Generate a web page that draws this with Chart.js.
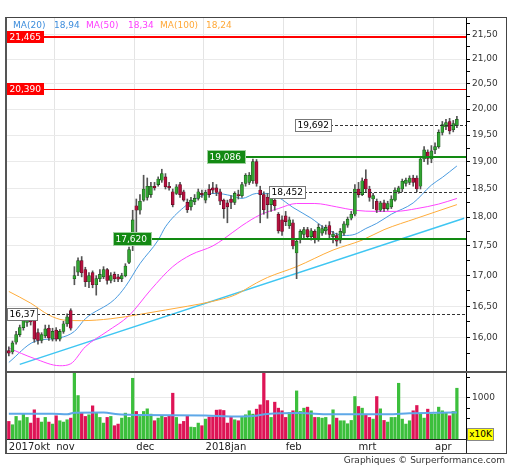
<!DOCTYPE html>
<html>
<head>
<meta charset="utf-8">
<script src="https://cdn.jsdelivr.net/npm/chart.js@4.4.0/dist/chart.umd.min.js"></script>
<style>
  body { margin: 0; background: #fff; width: 512px; height: 470px; overflow: hidden; position: relative; font-family: "DejaVu Sans", sans-serif; }
  canvas { position: absolute; left: 0; }
  #price { top: 0; }
  #vol { top: 372px; }
  .frame { position: absolute; left: 5px; top: 17px; width: 499px; height: 435px; border: 1px solid #444; border-left: 2px solid #555; pointer-events: none; }
  .sep { position: absolute; left: 6px; top: 371px; width: 500px; height: 2px; background: #555; }
  .vline { position: absolute; left: 466px; top: 439px; width: 1px; height: 14px; background: #222; }
  .leg { position: absolute; top: 20px; font-size: 9px; line-height: 11px; white-space: nowrap; }
  .unit { position: absolute; left: 467px; top: 428px; width: 25px; height: 11px; background: #ffff00; border: 1px solid #888; font-size: 9px; line-height: 11px; text-align: center; color: #000; }
  .foot { position: absolute; right: 7px; top: 455px; font-size: 9px; color: #333; white-space: nowrap; }
</style>
</head>
<body>
<canvas id="price" width="506" height="372"></canvas>
<canvas id="vol" width="506" height="82"></canvas>
<div class="frame"></div>
<div class="sep"></div>
<div class="vline"></div>
<div class="leg" style="left:13px;color:#3d8ddc">MA(20)</div>
<div class="leg" style="left:54px;color:#3d8ddc">18,94</div>
<div class="leg" style="left:86px;color:#ff3dff">MA(50)</div>
<div class="leg" style="left:128px;color:#ff3dff">18,34</div>
<div class="leg" style="left:160px;color:#ffa838">MA(100)</div>
<div class="leg" style="left:206px;color:#ffa838">18,24</div>
<div class="unit">x10K</div>
<div class="foot">Graphiques © Surperformance.com</div>
<script>
// koersen per handelsdag (okt 2017 - apr 2018)
const open = [15.80,15.78,15.93,16.05,16.16,16.24,16.34,16.28,16.08,15.96,16.03,16.15,15.98,
  16.12,15.98,16.10,16.22,16.43,16.95,17.06,17.25,17.10,16.90,17.05,16.85,16.95,16.98,17.10,16.92,17.02,16.98,16.95,17.00,17.22,17.62,
  18.20,18.12,18.30,18.35,18.40,18.55,18.58,18.66,18.72,18.55,18.45,18.42,18.58,18.45,18.26,18.18,18.27,18.33,18.42,
  18.30,18.50,18.52,18.52,18.45,18.30,18.25,18.32,18.26,18.40,18.38,18.60,18.62,18.65,19.00,18.48,18.40,18.35,18.22,18.30,18.05,17.95,
  18.02,17.85,17.90,17.38,17.62,17.70,17.78,17.66,17.75,17.62,17.72,17.76,17.85,17.66,17.68,17.60,17.72,17.86,17.98,18.05,
  18.50,18.40,18.68,18.50,18.32,18.28,18.12,18.25,18.15,18.18,18.30,18.45,18.50,18.60,18.62,18.70,18.70,18.55,19.05,19.18,19.05,
  19.22,19.28,19.55,19.66,19.76,19.60,19.68];
const high = [15.86,15.95,16.10,16.20,16.33,16.38,16.40,16.33,16.14,16.08,16.20,16.20,16.15,
  16.16,16.13,16.26,16.38,16.46,17.15,17.30,17.32,17.14,17.05,17.08,17.00,17.10,17.15,17.12,17.05,17.06,17.02,17.04,17.20,17.48,18.12,
  18.32,18.40,18.75,18.70,18.62,18.62,18.72,18.86,18.78,18.62,18.50,18.58,18.62,18.48,18.32,18.35,18.40,18.50,18.48,
  18.48,18.58,18.62,18.58,18.50,18.32,18.30,18.38,18.45,18.48,18.62,18.78,18.80,19.05,19.04,18.55,18.45,18.42,18.40,18.33,18.08,18.02,
  18.10,18.00,17.95,17.62,17.78,17.82,17.82,17.80,17.78,17.88,17.85,17.86,17.92,17.75,17.72,17.80,17.92,18.00,18.10,18.58,
  18.62,18.70,18.85,18.55,18.42,18.32,18.28,18.30,18.28,18.38,18.52,18.55,18.68,18.70,18.74,18.75,18.74,19.10,19.28,19.22,19.30,
  19.35,19.60,19.76,19.80,19.82,19.78,19.86];
const low = [15.72,15.75,15.90,16.02,16.12,16.18,16.20,15.93,15.90,15.92,16.00,15.96,15.95,
  15.95,15.95,16.07,16.18,16.12,16.85,17.00,16.98,16.82,16.80,16.80,16.68,16.90,16.95,16.86,16.88,16.90,16.90,16.90,16.98,17.20,17.42,
  17.70,18.05,18.28,18.30,18.35,18.48,18.55,18.62,18.50,18.48,18.18,18.40,18.35,18.28,18.08,18.12,18.22,18.30,18.35,
  18.25,18.35,18.42,18.38,18.22,17.98,17.90,18.15,18.22,18.32,18.35,18.55,18.58,18.60,18.55,17.90,18.05,17.98,18.10,18.12,17.72,17.68,
  17.85,17.80,17.45,16.95,17.55,17.62,17.62,17.60,17.55,17.58,17.68,17.70,17.62,17.55,17.50,17.55,17.68,17.82,17.95,18.02,
  18.35,18.38,18.45,18.28,18.15,18.08,18.10,18.10,18.12,18.15,18.28,18.42,18.45,18.55,18.58,18.55,18.45,18.50,19.00,18.95,18.98,
  19.15,19.25,19.50,19.60,19.52,19.56,19.64];
const close = [15.76,15.92,16.05,16.16,16.27,16.32,16.25,15.98,15.96,16.05,16.14,16.00,16.10,
  15.98,16.10,16.22,16.33,16.15,17.00,17.25,17.05,16.90,17.00,16.85,16.95,17.02,17.10,16.92,17.00,16.95,16.94,17.00,17.16,17.44,17.95,
  18.12,18.28,18.50,18.55,18.55,18.52,18.68,18.78,18.54,18.52,18.22,18.54,18.40,18.30,18.13,18.30,18.33,18.45,18.40,
  18.44,18.40,18.48,18.44,18.28,18.15,18.18,18.26,18.42,18.38,18.58,18.75,18.75,19.00,18.60,18.40,18.13,18.22,18.35,18.20,17.76,17.75,
  17.92,17.95,17.50,17.58,17.75,17.78,17.66,17.76,17.62,17.82,17.80,17.82,17.70,17.70,17.58,17.75,17.88,17.96,18.05,18.50,
  18.40,18.65,18.50,18.35,18.38,18.12,18.25,18.15,18.24,18.32,18.48,18.52,18.64,18.66,18.70,18.62,18.50,19.05,19.22,19.06,19.20,
  19.28,19.55,19.70,19.74,19.58,19.72,19.80];
// volume in x10K
const volume = [428,347,549,444,605,525,387,710,508,412,525,412,363,
  565,444,412,468,508,1598,1057,629,549,589,807,629,525,387,525,549,323,363,508,629,525,1477,
  670,549,670,734,605,444,508,565,525,565,1114,525,363,428,565,290,282,387,
  323,484,533,533,702,710,694,387,549,468,444,549,589,686,605,726,831,1638,936,525,896,750,
  686,525,646,686,1170,670,750,775,686,525,525,508,525,347,710,508,444,444,371,452,1033,
  791,750,589,525,484,1033,734,452,412,525,525,1356,484,363,444,686,815,605,508,726,605,
  605,775,686,646,565,670,1235];

const ma20At = [0,7,14,18,21,29,32,36,41,43,48,53,57,61,64,68,71,74,78,83,87,92,95,98,101,105,111,116,119,123];
const ma20 = [15.62,15.94,16.0,16.1,16.3,16.61,16.82,17.2,17.6,17.83,18.17,18.38,18.42,18.38,18.33,18.42,18.42,18.35,18.17,17.98,17.8,17.68,17.7,17.8,17.89,18.05,18.25,18.57,18.71,18.92];
const ma50At = [0,7,14,17,21,27,33,39,45,50,56,59,64,69,74,79,84,90,95,101,106,112,118,123];
const ma50 = [15.84,15.68,15.57,15.6,15.86,16.1,16.35,16.77,17.15,17.35,17.5,17.62,17.85,18.04,18.15,18.24,18.24,18.18,18.12,18.1,18.1,18.15,18.23,18.33];
const ma100At = [0,6,11,15,20,28,36,43,49,56,62,68,71,79,89,97,103,112,123];
const ma100 = [16.74,16.55,16.36,16.28,16.27,16.3,16.37,16.44,16.5,16.58,16.68,16.88,16.97,17.15,17.43,17.6,17.78,17.98,18.22];
const trendAt = [3,125];
const trendValue = [15.59,17.98];
const volMaAt = [0,12,16,18,26,30,36,54,62,67,71,80,88,96,104,110,118,123];
const volMa = [612,612,600,640,645,600,585,573,550,560,610,630,600,605,600,625,640,645];

// niveaus
const levelValue = [21.465, 20.390, 19.086, 17.620, 19.692, 18.452, 16.37];
const levelText = ["21,465", "20,390", "19,086", "17,620", "19,692", "18,452", "16,37"];
const levelFrom = [0, 0, 55, 29, 79, 72, 0];
const levelKind = ["high", "target", "support", "support", "mark", "mark", "mark"];

const monthStart = [0, 13, 35, 54, 76, 96, 117];
const monthNames = ["2017okt", "nov", "dec", "2018jan", "feb", "mrt", "apr"];
const priceTicks = [15.75,16,16.25,16.5,16.75,17,17.25,17.5,17.75,18,18.25,18.5,18.75,19,19.25,19.5,19.75,20,20.25,20.5,20.75,21,21.25,21.5,21.75];
const volTicks = [250, 500, 750, 1000, 1500];

const slots = open.length + 2;
const categories = Array.from({ length: slots }, (_, i) => i);

function sparse(at, vals) {
  const out = new Array(slots).fill(null);
  at.forEach((i, k) => { out[i] = vals[k]; });
  return out;
}
const isHalf = v => v != null && Math.abs(v * 2 - Math.round(v * 2)) < 1e-6;
const monthGrid = c => (c.index > 0 && monthStart.includes(c.index)) ? "#e4e4e4" : "transparent";
const up = close.map((c, i) => c >= open[i]);
// geen extra ruimte voor de labels aan de uiteinden van de as
const noPad = s => { s.paddingTop = 0; s.paddingBottom = 0; s.paddingLeft = 0; s.paddingRight = 0; };

Chart.defaults.font.family = "'DejaVu Sans', sans-serif";

const levelPlugin = {
  id: "levels",
  afterDatasetsDraw(chart) {
    const { ctx, chartArea: a, scales: { x, y } } = chart;
    const half = (x.getPixelForValue(1) - x.getPixelForValue(0)) / 2;
    ctx.save();
    ctx.font = "9px 'DejaVu Sans'";
    ctx.textBaseline = "middle";
    levelValue.forEach((v, k) => {
      const py = Math.round(y.getPixelForValue(v));
      const bx = Math.round(x.getPixelForValue(levelFrom[k]) - half);
      const kind = levelKind[k];
      const txt = levelText[k];
      const w = Math.ceil(ctx.measureText(txt).width) + 5;

      ctx.beginPath();
      if (kind === "mark") {
        ctx.setLineDash([3, 2]);
        ctx.strokeStyle = "#333";
        ctx.lineWidth = 1;
        ctx.moveTo(bx, py + 0.5);
        ctx.lineTo(a.right, py + 0.5);
      } else {
        ctx.setLineDash([]);
        ctx.strokeStyle = kind === "support" ? "#128a12" : "#ff0000";
        ctx.lineWidth = kind === "target" ? 1 : 2;
        const off = kind === "target" ? 0.5 : 0;
        ctx.moveTo(bx, py + off);
        ctx.lineTo(a.right, py + off);
      }
      ctx.stroke();
      ctx.setLineDash([]);

      if (kind === "mark") {
        ctx.fillStyle = "#fff";
        ctx.fillRect(bx, py - 6, w, 13);
        ctx.strokeStyle = "#777";
        ctx.lineWidth = 1;
        ctx.strokeRect(bx + 0.5, py - 5.5, w - 1, 12);
        ctx.fillStyle = "#000";
      } else if (kind === "support") {
        ctx.fillStyle = "#138a13";
        ctx.fillRect(bx, py - 7, w + 2, 14);
        ctx.strokeStyle = "#9fd09f";
        ctx.lineWidth = 1;
        ctx.strokeRect(bx + 0.5, py - 6.5, w + 1, 13);
        ctx.fillStyle = "#fff";
      } else {
        ctx.fillStyle = "#ff0000";
        ctx.fillRect(bx, py - 6, w, 12);
        ctx.fillStyle = "#fff";
      }
      ctx.fillText(txt, bx + 2.5, py + 0.5);
    });
    ctx.restore();
  }
};

const lineSet = (data, color, width, order) => ({
  type: "line", data, borderColor: color, borderWidth: width, pointRadius: 0,
  spanGaps: true, cubicInterpolationMode: "monotone", order
});

new Chart(document.getElementById("price"), {
  type: "bar",
  data: {
    labels: categories,
    datasets: [
      lineSet(sparse(trendAt, trendValue), "#3fc6f2", 1.5, 6),
      lineSet(sparse(ma100At, ma100), "#ffac3a", 1, 5),
      lineSet(sparse(ma50At, ma50), "#ff44ff", 1, 5),
      lineSet(sparse(ma20At, ma20), "#4a9be0", 1, 5),
      {
        data: low.map((l, i) => [l, high[i]]),
        backgroundColor: "#555", barThickness: 1, grouped: false, order: 2
      },
      {
        data: open.map((o, i) => [o, close[i]]),
        backgroundColor: up.map(u => u ? "#32a532" : "#b3103e"),
        borderColor: up.map(u => u ? "#1b501b" : "#5c0a20"),
        borderWidth: 0.6, borderSkipped: false, barThickness: 3, grouped: false, order: 1
      }
    ]
  },
  options: {
    responsive: false, animation: false, events: [],
    layout: { padding: { left: 7, top: 17, right: 0, bottom: 1 } },
    plugins: { legend: { display: false }, tooltip: { enabled: false } },
    scales: {
      x: {
        offset: true,
        grid: { offset: true, color: monthGrid, drawTicks: false },
        border: { display: false },
        ticks: { display: false },
        afterFit: s => { s.height = 0; noPad(s); }
      },
      y: {
        type: "logarithmic", position: "right", min: 15.49, max: 21.88,
        afterBuildTicks: s => { s.ticks = priceTicks.map(v => ({ value: v })); },
        afterFit: s => { s.width = 40; noPad(s); },
        grid: { color: c => isHalf(c.tick && c.tick.value) ? "#eaeaea" : "transparent", tickColor: "#000", tickLength: 4 },
        border: { color: "#000" },
        ticks: {
          autoSkip: false, padding: 2, color: "#333", font: { size: 9 },
          callback: v => isHalf(v) ? v.toFixed(2).replace(".", ",") : ""
        }
      }
    }
  },
  plugins: [levelPlugin]
});

new Chart(document.getElementById("vol"), {
  type: "bar",
  data: {
    labels: categories,
    datasets: [
      { type: "line", data: sparse(volMaAt, volMa), borderColor: "#5ea8e8", borderWidth: 2, pointRadius: 0, spanGaps: true, cubicInterpolationMode: "monotone", order: 0 },
      { data: volume, backgroundColor: up.map(u => u ? "#3cbf3c" : "#de1456"), barThickness: 2.6, order: 1 }
    ]
  },
  options: {
    responsive: false, animation: false, events: [],
    layout: { padding: { left: 7, top: 0, right: 0, bottom: 1 } },
    plugins: { legend: { display: false }, tooltip: { enabled: false } },
    scales: {
      x: {
        offset: true,
        grid: { offset: true, color: monthGrid, drawTicks: false },
        border: { color: "#222" },
        ticks: {
          autoSkip: false, maxRotation: 0, align: "start", padding: 2, color: "#222", font: { size: 10 },
          callback: (v, i) => { const k = monthStart.indexOf(i); return k < 0 ? "" : monthNames[k]; }
        },
        afterFit: s => { s.height = 14; noPad(s); }
      },
      y: {
        position: "right", min: 0, max: 1630,
        afterBuildTicks: s => { s.ticks = volTicks.map(v => ({ value: v })); },
        afterFit: s => { s.width = 40; noPad(s); },
        grid: { color: c => (c.tick && c.tick.value === 1000) ? "#eaeaea" : "transparent", tickColor: "#000", tickLength: 4 },
        border: { color: "#000" },
        ticks: { autoSkip: false, padding: 2, color: "#333", font: { size: 9 }, callback: v => v === 1000 ? "1000" : "" }
      }
    }
  }
});
</script>
</body>
</html>
